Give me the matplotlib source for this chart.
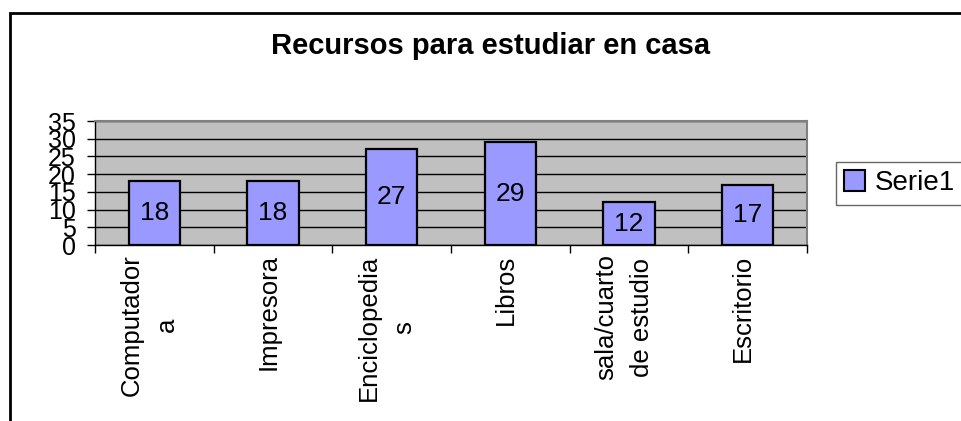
import matplotlib.pyplot as plt
from matplotlib.patches import Rectangle, Patch
import numpy as np

plt.rcParams['font.family'] = ['Liberation Sans', 'DejaVu Sans']

categorias = ['Computador\na', 'Impresora', 'Enciclopedia\ns', 'Libros',
              'sala/cuarto\nde estudio', 'Escritorio']
valores = [18, 18, 27, 29, 12, 17]
serie = 'Serie1'
titulo = 'Recursos para estudiar en casa'

fig = plt.figure(figsize=(9.61, 4.21), dpi=100)
fig.patch.set_facecolor('white')

# outer chart frame (right/bottom edges fall outside the picture)
fig.patches.append(Rectangle((10 / 961, -0.05), 1.2, 1 - 13 / 421 + 0.05,
                             transform=fig.transFigure, fill=False,
                             edgecolor='black', linewidth=2))

ax = fig.add_axes([95 / 961, 1 - 245 / 421, 712 / 961, 124 / 421])
ax.set_facecolor('#C0C0C0')

x = np.arange(len(categorias))
bars = ax.bar(x, valores, width=0.43, color='#9999FF', edgecolor='black',
              linewidth=1.6, zorder=3)
for xi, v in zip(x, valores):
    ax.text(xi, v / 2, str(v), ha='center', va='center', fontsize=19, zorder=4)

ax.set_xlim(-0.5, len(categorias) - 0.5)
ax.set_ylim(0, 35)
ax.set_yticks(np.arange(0, 36, 5))
ax.set_yticklabels([str(v) for v in range(0, 36, 5)], fontsize=18)
ax.tick_params(axis='y', direction='out', length=6, width=1, pad=8)
ax.yaxis.grid(True, color='black', linewidth=1, zorder=1)
ax.set_axisbelow(True)

ax.set_xticks(np.arange(-0.5, len(categorias), 1))
ax.set_xticklabels([])
ax.tick_params(axis='x', direction='out', length=6, width=1)
for xi, lab in zip(x, categorias):
    ax.text(xi - 0.04, -0.075, lab, transform=ax.get_xaxis_transform(), rotation=90,
            ha='center', va='top', ma='center', fontsize=18.5, linespacing=1.6)

for s in ['top', 'right']:
    ax.spines[s].set_color('#808080')
    ax.spines[s].set_linewidth(1.5)
for s in ['left', 'bottom']:
    ax.spines[s].set_color('black')
    ax.spines[s].set_linewidth(1)

fig.text(0.51, 1 - 46 / 421, titulo, ha='center', va='center',
         fontsize=21, fontweight='bold')

leg = fig.legend(handles=[Patch(facecolor='#9999FF', edgecolor='black', linewidth=1.5)],
                 labels=[serie], loc='upper left',
                 bbox_to_anchor=(836 / 961, 1 - 162 / 421), fontsize=20,
                 frameon=True, fancybox=False, edgecolor='#404040',
                 handlelength=0.75, handleheight=0.75, handletextpad=0.35,
                 borderpad=0.3, borderaxespad=0)
leg.get_frame().set_linewidth(1)

fig.savefig('out.png', dpi=100)
